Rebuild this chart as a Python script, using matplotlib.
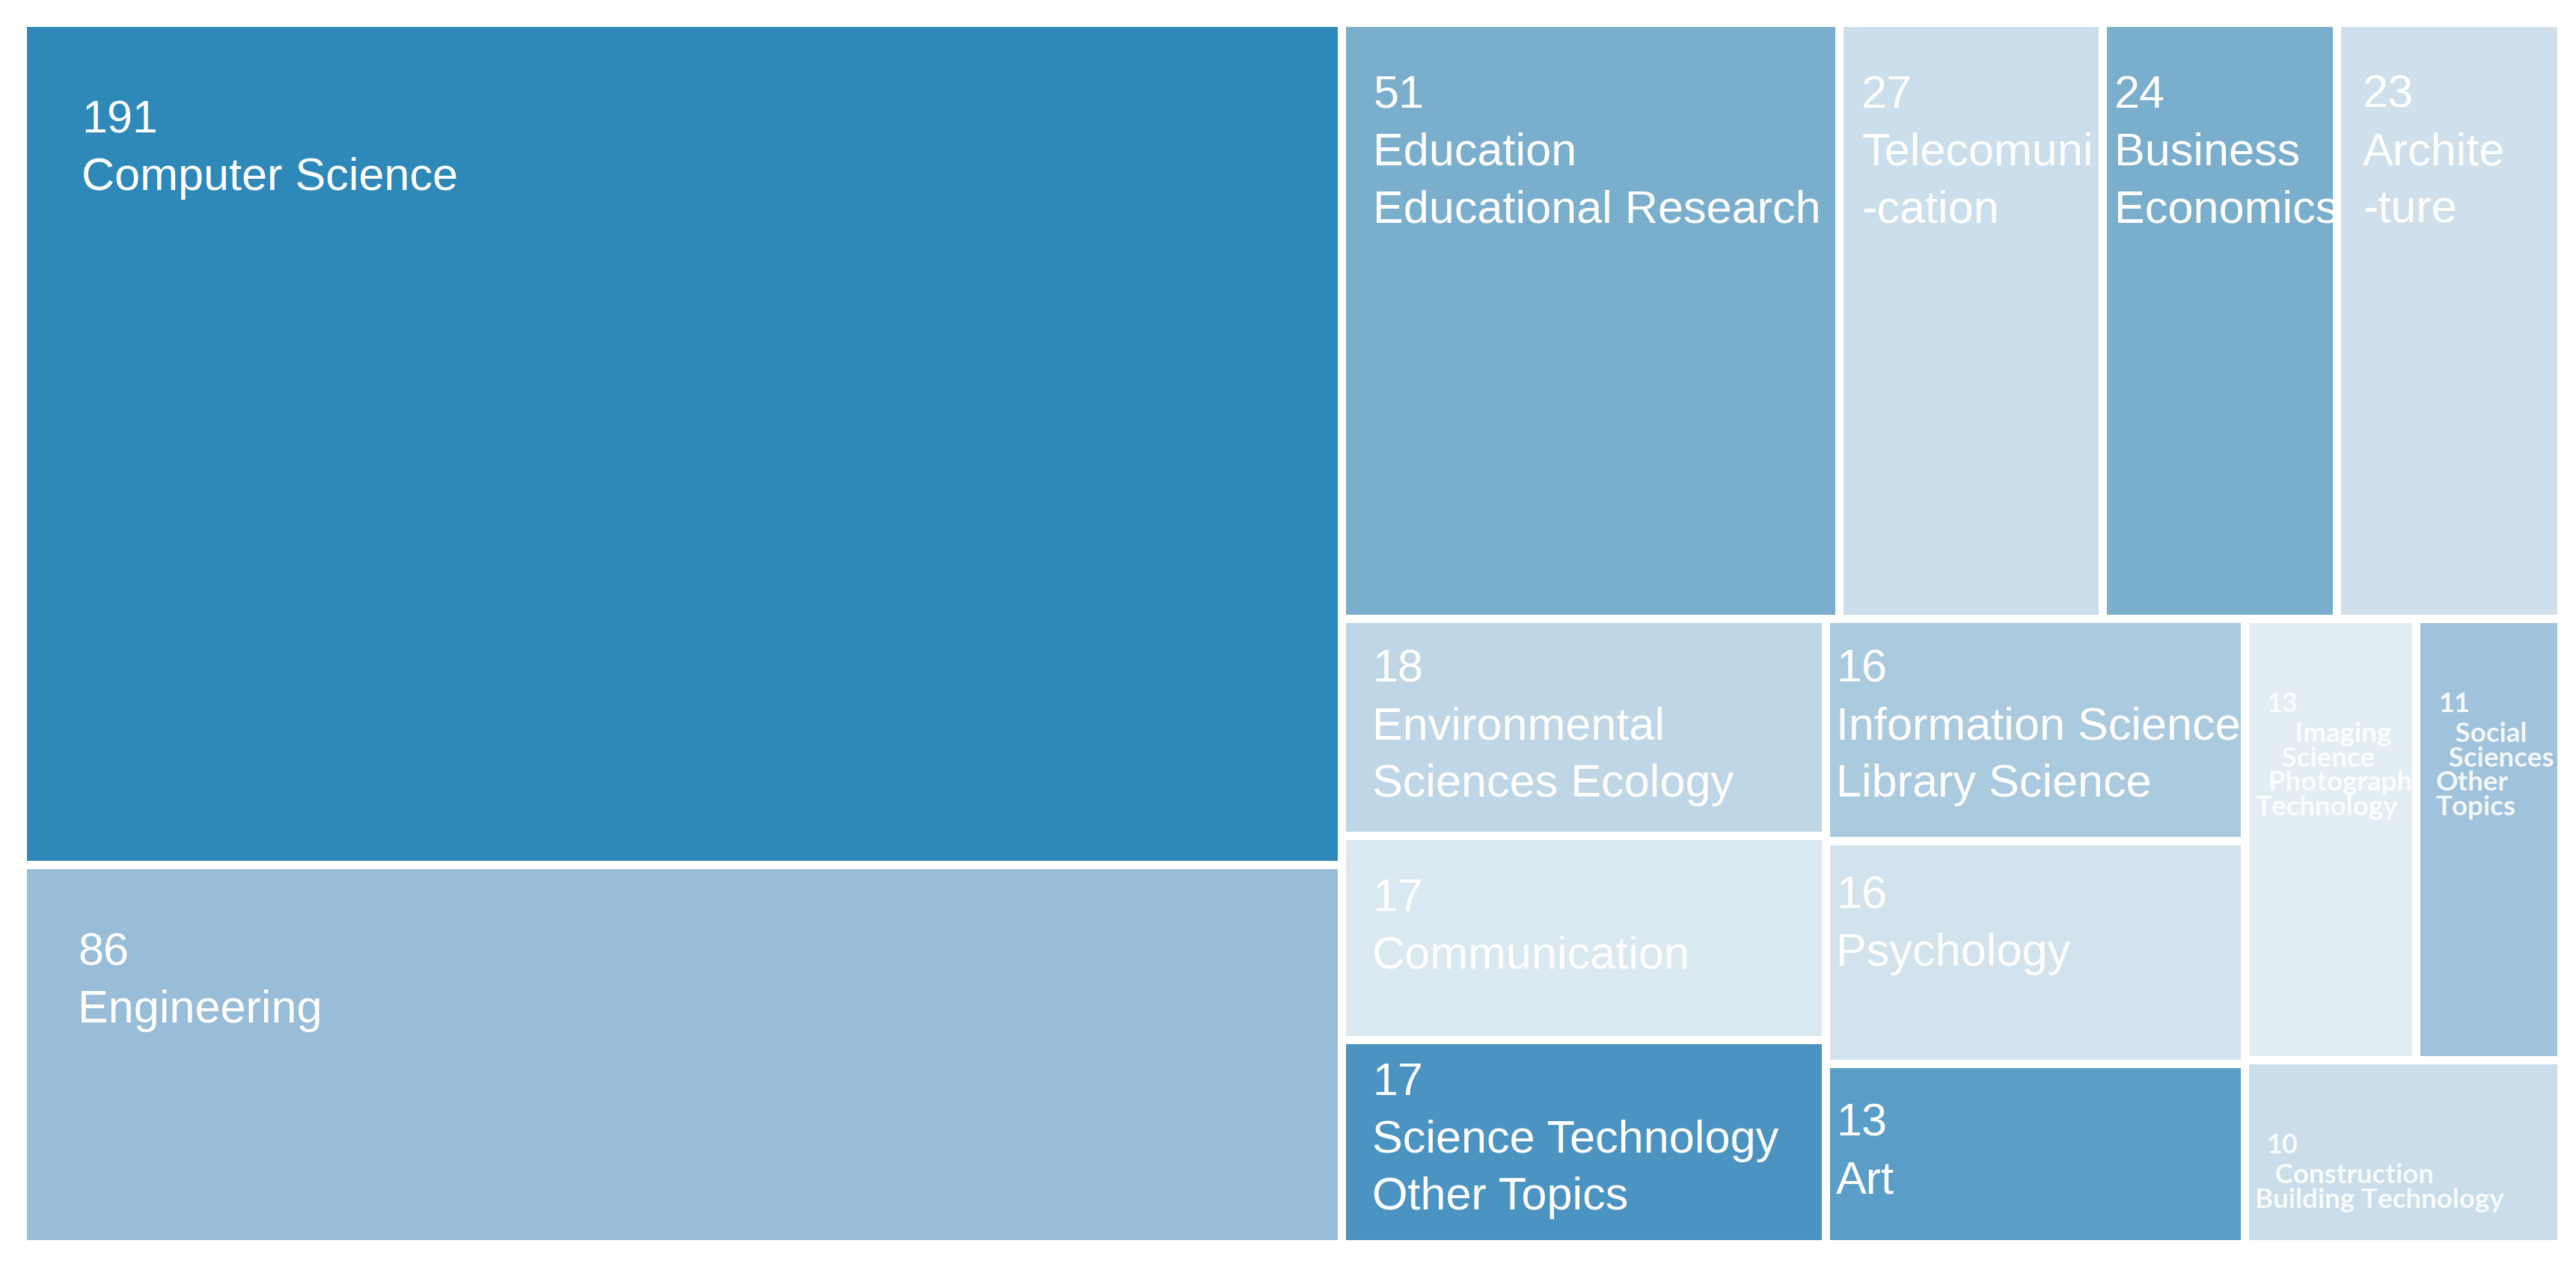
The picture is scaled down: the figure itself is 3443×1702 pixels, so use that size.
import matplotlib
matplotlib.use("Agg")
import matplotlib.pyplot as plt
from matplotlib.patches import Rectangle
from matplotlib.transforms import Bbox, TransformedBbox

# research areas and record counts
labels = [
    "Computer Science", "Engineering", "Education\nEducational Research",
    "Telecomuni\n-cation", "Business\nEconomics", "Archite\n-ture",
    "Environmental\nSciences Ecology", "Communication", "Science Technology\nOther Topics",
    "Information Science\nLibrary Science", "Psychology", "Art",
    "      Imaging\n    Science\n  Photographic\nTechnology",
    "   Social\n  Sciences\nOther\nTopics",
    "   Construction\nBuilding Technology",
]
counts = [191, 86, 51, 27, 24, 23, 18, 17, 17, 16, 16, 13, 13, 11, 10]
colors = [
    "#2e89b9", "#97bdd8", "#7aaecd", "#cadeeb", "#79aecd", "#cfe0ec",
    "#bed6e6", "#d9e8f1", "#4b94c1", "#aacae0", "#d2e3ee", "#5a9dc7",
    "#e2edf4", "#9fc3dc", "#c9ddea",
]
small = [12, 13, 14]  # tiles with the small bold labels

# text offsets from tile corner (px)
pads = [(73, 97), (68, 84), (36, 64), (24, 64), (10, 64), (29, 64),
        (35, 34), (35, 51), (35, 24), (8, 34), (8, 40), (8, 47),
        (24, 92), (24, 92), (24, 92)]
label_shift = [(-16, 40), (-4, 40), (-16, 40)]

# nesting of the treemap: 'h' splits side by side, 'v' stacks
layout = ("h", [("v", [0, 1]),
                ("v", [("h", [2, 3, 4, 5]),
                       ("h", [("v", [6, 7, 8]),
                              ("v", [9, 10, 11]),
                              ("v", [("h", [12, 13]), 14])])])])


def total(node):
    if isinstance(node, int):
        return counts[node]
    return sum(total(c) for c in node[1])


def place(node, x, y, w, h, out):
    if isinstance(node, int):
        out[node] = (x, y, w, h)
        return
    direction, children = node
    s = total(node)
    for c in children:
        frac = total(c) / s
        if direction == "h":
            place(c, x, y, w * frac, h, out)
            x += w * frac
        else:
            place(c, x, y, w, h * frac, out)
            y += h * frac


W, H = 3443, 1702
gap = 11
fig = plt.figure(figsize=(W / 100, H / 100), dpi=100)
ax = fig.add_axes([0, 0, 1, 1])
ax.set_xlim(0, W)
ax.set_ylim(H, 0)
ax.axis("off")

rects = {}
place(layout, 36 - gap / 2, 36 - gap / 2, 3382 + gap, 1622 + gap, rects)

for i, (x, y, w, h) in rects.items():
    x0, y0, w0, h0 = x + gap / 2, y + gap / 2, w - gap, h - gap
    ax.add_patch(Rectangle((x0, y0), w0, h0, facecolor=colors[i], edgecolor="none"))
    clip = TransformedBbox(Bbox([[x0, y0], [x0 + w0, y0 + h0]]), ax.transData)
    dx, dy = pads[i]
    if i in small:
        sx, sy = label_shift[small.index(i)]
        t1 = ax.text(x0 + dx, y0 + dy, str(counts[i]), color="white", fontsize=26,
                     family="Lato", fontweight="bold", va="top", ha="left", alpha=0.9)
        t2 = ax.text(x0 + dx + sx, y0 + dy + sy, labels[i], color="white", fontsize=26.5,
                     family="Lato", fontweight="bold", va="top", ha="left",
                     linespacing=0.98, alpha=0.9)
        texts = [t1, t2]
    else:
        t = ax.text(x0 + dx, y0 + dy, f"{counts[i]}\n{labels[i]}", color="white",
                    fontsize=44, family="Liberation Sans", va="top", ha="left",
                    linespacing=1.45)
        texts = [t]
    for t in texts:
        t.set_clip_on(True)
        t.set_clip_box(clip)

fig.savefig("out.png", dpi=100, facecolor="white")
